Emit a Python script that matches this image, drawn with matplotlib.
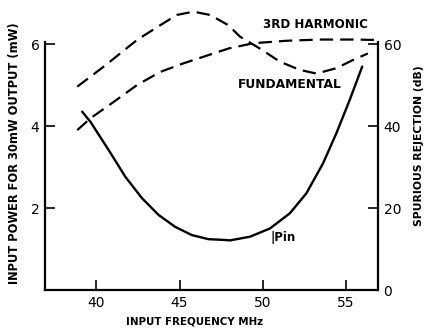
import matplotlib
matplotlib.use('Agg')
import matplotlib.pyplot as plt

# Pin curve (left axis, mW)
pin_freq = [39.14, 39.64, 40.74, 41.74, 42.74, 43.74, 44.74, 45.74, 46.74, 47.74,
            48.04, 49.24, 50.44, 51.64, 52.64, 53.64, 54.44, 55.24, 56.0]
pin_mw = [4.35, 4.10, 3.41, 2.76, 2.24, 1.83, 1.54, 1.34, 1.24, 1.22,
          1.21, 1.30, 1.50, 1.87, 2.36, 3.09, 3.82, 4.63, 5.45]

# Fundamental rejection (right axis, dB)
fund_freq = [38.84, 40.44, 42.44, 43.84, 44.84, 45.84, 46.84, 47.94, 48.64, 49.84,
             51.04, 52.24, 53.24, 54.44, 55.44, 56.34]
fund_db = [49.6, 54.5, 61.0, 64.6, 67.1, 67.9, 67.1, 64.6, 61.8, 58.9,
           55.7, 53.7, 52.8, 54.1, 56.1, 57.7]

# 3rd harmonic rejection (right axis, dB)
harm_freq = [38.84, 39.64, 41.04, 42.44, 43.84, 45.24, 46.44, 47.94, 49.44, 51.44,
             53.44, 55.44, 56.84]
harm_db = [39.0, 41.9, 45.9, 50.0, 53.2, 55.3, 56.9, 58.9, 60.2, 60.8,
           61.1, 61.1, 61.0]

x_ticks = [40, 45, 50, 55]
left_ticks = [2, 4, 6]
right_ticks = [0, 20, 40, 60]

plt.rcParams['font.family'] = ['DejaVu Sans']

fig = plt.figure(figsize=(4.26, 3.29), dpi=100)
ax = fig.add_axes([45 / 426, 1 - 290 / 329, 333 / 426, 248 / 329])
ax2 = ax.twinx()

ax.plot(pin_freq, pin_mw, color='black', lw=1.7, clip_on=False,
        solid_joinstyle='round', solid_capstyle='round')
dash = dict(color='black', lw=1.6, dashes=(6, 3.2), clip_on=False)
ax2.plot(fund_freq, fund_db, **dash)
ax2.plot(harm_freq, harm_db, **dash)

ax.set_xlim(36.9, 56.95)
ax.set_ylim(0, 6.05)
ax2.set_ylim(0, 60.5)

for a in (ax, ax2):
    a.spines['top'].set_visible(False)
    for s in a.spines.values():
        s.set_linewidth(1.6)
ax.spines['right'].set_visible(False)
ax2.spines['left'].set_visible(False)
ax2.spines['bottom'].set_visible(False)

ax.set_xticks(x_ticks)
ax.set_yticks(left_ticks)
ax2.set_yticks(right_ticks)
ax.tick_params(axis='both', direction='in', length=7, width=1.2, labelsize=10, pad=4)
ax2.tick_params(axis='y', direction='in', length=7, width=1.2, labelsize=10, pad=4)

fig.text(15 / 426, 1 - 153 / 329, 'INPUT POWER FOR 30mW OUTPUT (mW)', rotation=90,
         ha='center', va='center', fontsize=8.3, fontweight='bold')
fig.text(419 / 426, 1 - 146 / 329, 'SPURIOUS REJECTION (dB)', rotation=90,
         ha='center', va='center', fontsize=7.8, fontweight='bold')
fig.text(195 / 426, 1 - 321 / 329, 'INPUT FREQUENCY MHz', ha='center', va='center',
         fontsize=7.4, fontweight='bold')
fig.text(315 / 426, 1 - 25 / 329, '3RD HARMONIC', ha='center', va='center',
         fontsize=8.6, fontweight='bold')
fig.text(290 / 426, 1 - 85 / 329, 'FUNDAMENTAL', ha='center', va='center',
         fontsize=8.8, fontweight='bold')
fig.text(271 / 426, 1 - 237 / 329, '|Pin', ha='left', va='center',
         fontsize=8.5, fontweight='bold')

fig.savefig('out.png', dpi=100)
